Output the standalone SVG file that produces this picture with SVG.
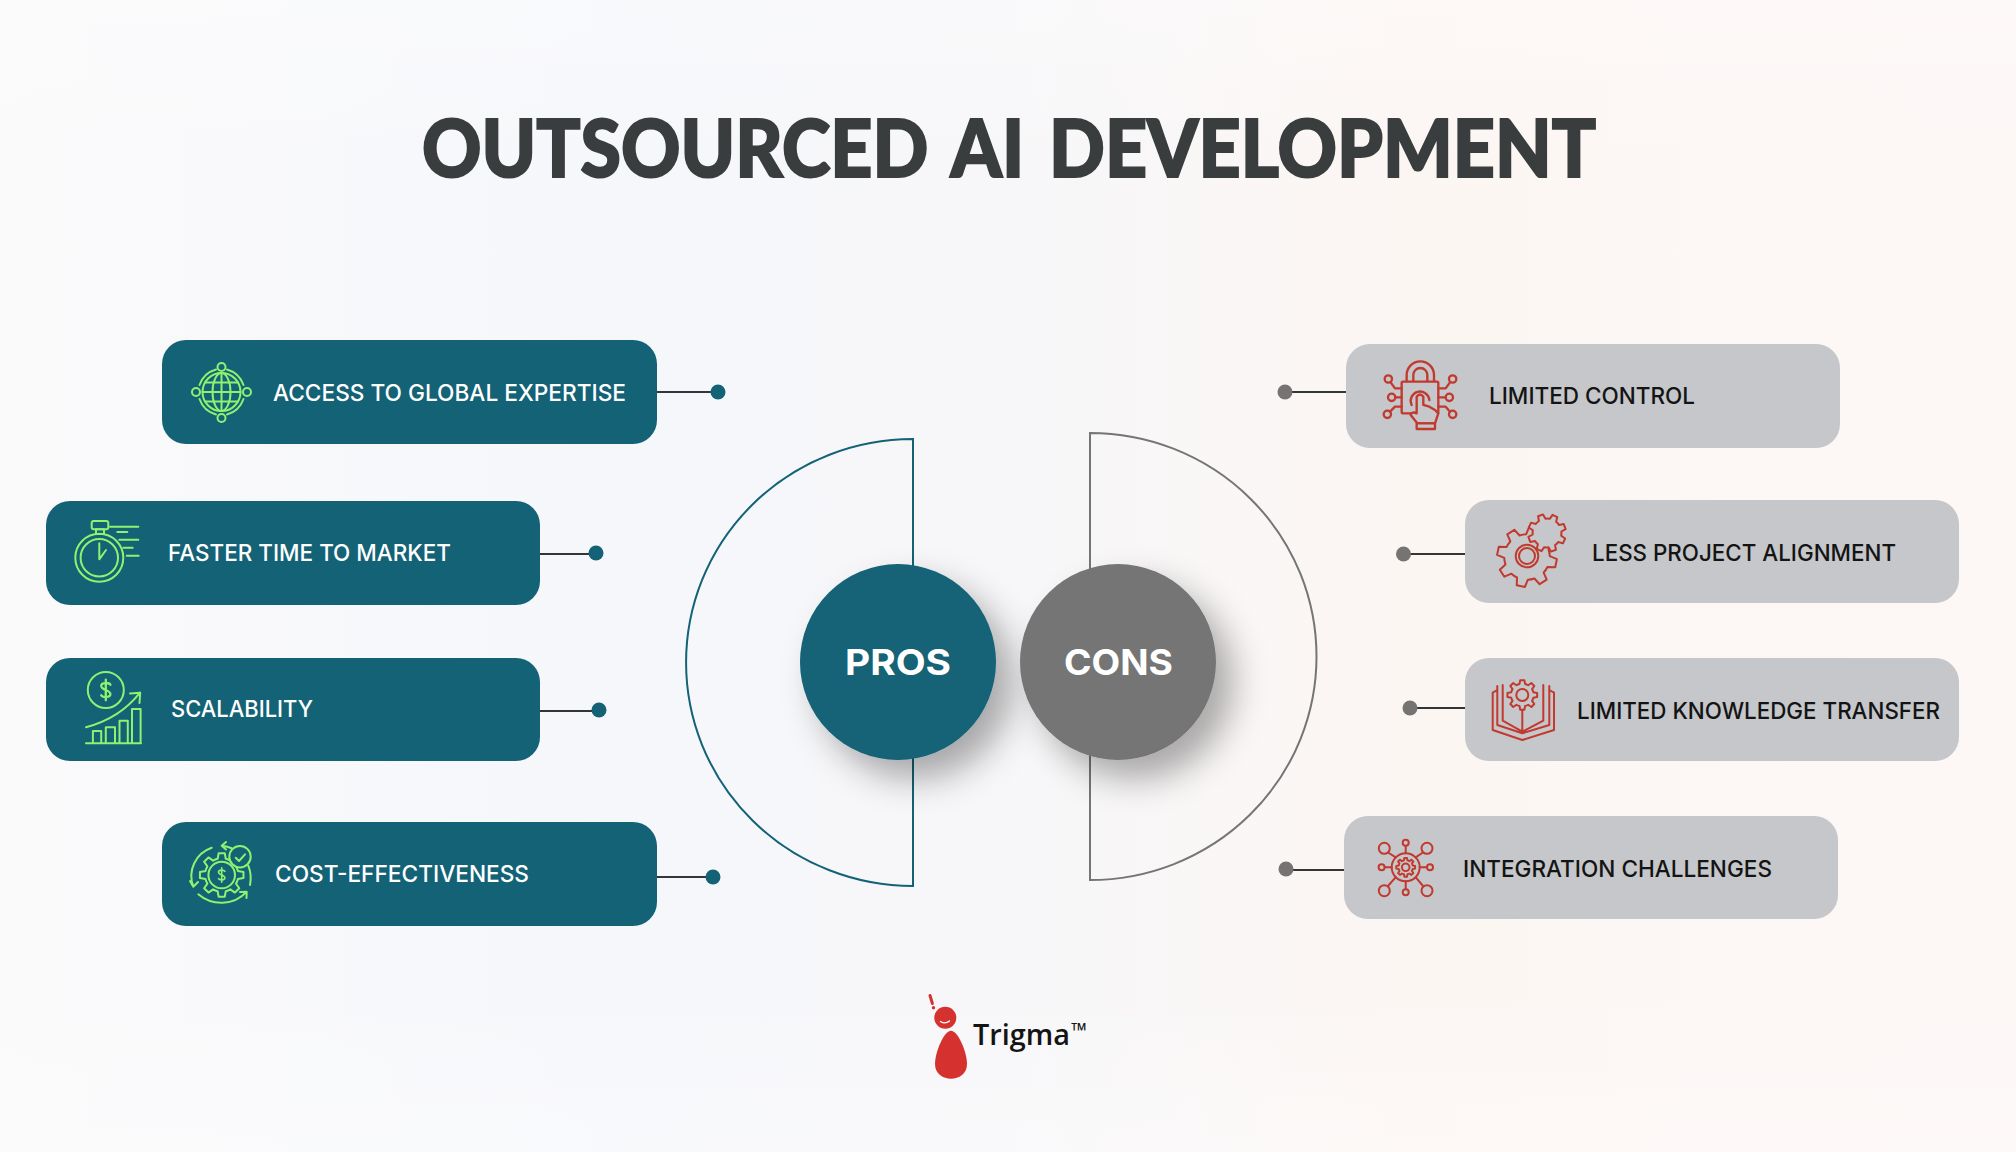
<svg xmlns="http://www.w3.org/2000/svg" xmlns:xlink="http://www.w3.org/1999/xlink" width="2016" height="1152" viewBox="0 0 2016 1152">
<style>
.lbl{font-family:"Inter","Liberation Sans",sans-serif;font-size:23px;font-weight:500}
.w{fill:#ffffff}.k{fill:#141414}
.teal{fill:#136276}.grey{fill:#c5c7ca}
.gi{fill:none;stroke:#8df26f;stroke-width:2;stroke-linecap:round;stroke-linejoin:round}
.ri{fill:none;stroke:#c1392f;stroke-width:2;stroke-linecap:round;stroke-linejoin:round}
.ln{stroke:#333637;stroke-width:2.2;fill:none}
.big{font-family:"Inter","Liberation Sans",sans-serif;font-size:35px;font-weight:700;fill:#ffffff}
</style>
<defs>
<linearGradient id="bg" x1="0" y1="0" x2="1" y2="0">
<stop offset="0" stop-color="#fafafb"/><stop offset=".3" stop-color="#f6f7fb"/><stop offset=".5" stop-color="#f7f7f9"/><stop offset=".7" stop-color="#fcf6f3"/><stop offset="1" stop-color="#fdf7f6"/>
</linearGradient>
<linearGradient id="veil" x1="0" y1="0" x2="0" y2="1">
<stop offset="0" stop-color="#ffffff" stop-opacity=".3"/><stop offset=".15" stop-color="#ffffff" stop-opacity="0"/><stop offset=".85" stop-color="#ffffff" stop-opacity="0"/><stop offset="1" stop-color="#ffffff" stop-opacity=".3"/>
</linearGradient>
<filter id="sh" x="-40%" y="-40%" width="200%" height="200%"><feDropShadow dx="17" dy="19" stdDeviation="17" flood-color="#000000" flood-opacity=".32"/></filter>
<path id="g8" vector-effect="non-scaling-stroke" d="M7.37 -1.84L9.9 -1.39L9.9 1.39L7.37 1.84A7.6 7.6 0 0 1 6.51 3.91L7.99 6.02L6.02 7.99L3.91 6.51A7.6 7.6 0 0 1 1.84 7.37L1.39 9.9L-1.39 9.9L-1.84 7.37A7.6 7.6 0 0 1 -3.91 6.51L-6.02 7.99L-7.99 6.02L-6.51 3.91A7.6 7.6 0 0 1 -7.37 1.84L-9.9 1.39L-9.9 -1.39L-7.37 -1.84A7.6 7.6 0 0 1 -6.51 -3.91L-7.99 -6.02L-6.02 -7.99L-3.91 -6.51A7.6 7.6 0 0 1 -1.84 -7.37L-1.39 -9.9L1.39 -9.9L1.84 -7.37A7.6 7.6 0 0 1 3.91 -6.51L6.02 -7.99L7.99 -6.02L6.51 -3.91A7.6 7.6 0 0 1 7.37 -1.84Z"/>
<path id="dol" d="M4 -4.5C3 -6.5 -4 -7 -4 -3.5C-4 0 4 0 4 3.5C4 7 -3 6.5 -4 4.5M0 -9V9"/>
</defs>
<rect width="2016" height="1152" fill="url(#bg)"/>
<rect width="2016" height="1152" fill="url(#veil)"/>

<text id="title" x="422" y="177" textLength="1174" lengthAdjust="spacingAndGlyphs" font-family="Lato,'Liberation Sans',sans-serif" font-size="80" font-weight="900" word-spacing="8" fill="#3a3d3e" stroke="#3a3d3e" stroke-width="2">OUTSOURCED AI DEVELOPMENT</text>

<g id="connectors">
<g class="ln">
<path d="M657 392H718"/><path d="M540 554H596"/><path d="M540 711H599"/><path d="M657 877H713"/>
<path d="M1346 392H1285"/><path d="M1465 554H1403"/><path d="M1465 708H1410"/><path d="M1344 870H1286"/>
</g>
<g class="teal"><circle cx="718" cy="392" r="7.500"/><circle cx="596" cy="553" r="7.500"/><circle cx="599" cy="710" r="7.500"/><circle cx="713" cy="877" r="7.500"/></g>
<g fill="#757472"><circle cx="1285" cy="392" r="7.500"/><circle cx="1403.500" cy="554" r="7.500"/><circle cx="1410" cy="708" r="7.500"/><circle cx="1286" cy="869" r="7.500"/></g>
</g>

<g id="pros">
<path d="M913 439A227 223.500 0 0 0 913 886Z" fill="none" stroke="#136276" stroke-width="2"/>
<circle cx="898" cy="662" r="98" class="teal" filter="url(#sh)"/>
<text x="845" y="675" textLength="106" lengthAdjust="spacingAndGlyphs" class="big">PROS</text>
</g>
<g id="cons">
<path d="M1090 433A226.500 223.500 0 0 1 1090 880Z" fill="none" stroke="#757575" stroke-width="2"/>
<circle cx="1118" cy="662" r="98" fill="#757575" filter="url(#sh)"/>
<text x="1064" y="675" textLength="109" lengthAdjust="spacingAndGlyphs" class="big">CONS</text>
</g>

<g id="pro-global">
<rect x="162" y="340" width="495" height="104" rx="24" class="teal"/>
<g class="gi">
<circle cx="221.500" cy="392" r="19"/><ellipse cx="221.500" cy="392" rx="9" ry="19"/><path d="M221.500 373V411M202.500 392H240.500M205 382.500H238M205 401.500H238"/>
<circle cx="221.500" cy="367" r="4"/><circle cx="221.500" cy="418" r="4"/><circle cx="196" cy="392" r="4"/><circle cx="247" cy="392" r="4"/>
<path d="M216 369.500A24.500 24.500 0 0 0 199.500 385M227 369.500A24.500 24.500 0 0 1 243.500 385M199.500 399A24.500 24.500 0 0 0 216 414.500M243.500 399A24.500 24.500 0 0 1 227 414.500"/>
</g>
<text x="273" y="401" textLength="353" lengthAdjust="spacingAndGlyphs" class="lbl w">ACCESS TO GLOBAL EXPERTISE</text>
</g>

<g id="pro-time">
<rect x="46" y="501" width="494" height="104" rx="24" class="teal"/>
<g class="gi">
<circle cx="99.300" cy="557.700" r="24"/><circle cx="99.300" cy="557.700" r="18.700"/>
<rect x="91.700" y="521" width="16.600" height="8.300" rx="2"/><rect x="96" y="529.300" width="8" height="4.700"/>
<path d="M99.300 543.300V559.300L106 550M110 526.700H138.300M117.300 532H127.300M119.300 539.700H138.300M123.300 547.700H132.700M126.700 555.700H138.700"/>
</g>
<text x="168" y="561" textLength="283" lengthAdjust="spacingAndGlyphs" class="lbl w">FASTER TIME TO MARKET</text>
</g>

<g id="pro-scale">
<rect x="46" y="658" width="494" height="103" rx="24" class="teal"/>
<g class="gi">
<circle cx="105.800" cy="690" r="18"/><use href="#dol" transform="translate(105.800 690) scale(1.150)"/>
<path d="M86 727.300C110 721 128 708 140 692.700M130 693.500L140.200 692.700L139.500 703"/>
<path d="M86 743.300H141M92.900 743.300V731H101.200V743.300M105.800 743.300V727.300H115V743.300M119.500 743.300V720.700H127.800V743.300M132 743.300V709H140.600V743.300"/>
</g>
<text x="171" y="717" textLength="142" lengthAdjust="spacingAndGlyphs" class="lbl w">SCALABILITY</text>
</g>

<g id="pro-cost">
<rect x="162" y="822" width="495" height="104" rx="24" class="teal"/>
<g class="gi">
<use href="#g8" transform="translate(221.700 875) scale(2.200)"/>
<circle cx="221.700" cy="875" r="13.300"/><use href="#dol" transform="translate(221.700 875) scale(.8)"/>
<circle cx="240" cy="856.700" r="10.700" fill="#136276"/><path d="M235.700 857.700L239 861L245 854.300"/>
<path d="M211.700 847.700A30 30 0 0 0 193.300 886.700M190 881L193.300 886.700L198 882"/>
<path d="M198.300 894.300C212 906 234 906 246.700 891.700M240 892L246.700 891.700L246.500 898"/>
<path d="M248.300 865.700Q252 875 250 885M231.700 848.300Q226 846 221.700 845.700M226 842L221.700 845.700L226 849.500"/>
</g>
<text x="275" y="882" textLength="254" lengthAdjust="spacingAndGlyphs" class="lbl w">COST-EFFECTIVENESS</text>
</g>

<g id="con-control">
<rect x="1346" y="344" width="494" height="104" rx="24" class="grey"/>
<g class="ri" transform="translate(1370 355) scale(.3333)" style="stroke-width:7">
<rect x="95" y="80" width="110" height="95" rx="4"/>
<path d="M110 78V60A41 41 0 0 1 192 60V78M130 78V60A21 21 0 0 1 172 60V78"/>
<circle cx="55" cy="72" r="11"/><circle cx="65" cy="127" r="11"/><circle cx="52" cy="178" r="11"/>
<circle cx="248" cy="72" r="11"/><circle cx="238" cy="127" r="11"/><circle cx="248" cy="178" r="11"/>
<path d="M95 100H75L62 82M95 127H76M95 155H75L60 170M205 100H227L240 82M205 127H227M205 155H227L240 170"/>
<path d="M125 150A28 28 0 1 1 178 135"/>
<path d="M140 175V125Q150 112 160 125V150L178 155L195 165L205 175L195 205H142L122 180Q125 168 140 175Z" fill="#c5c7ca"/>
<rect x="140" y="205" width="55" height="17" fill="#c5c7ca"/>
</g>
<text x="1489" y="404" textLength="206" lengthAdjust="spacingAndGlyphs" class="lbl k">LIMITED CONTROL</text>
</g>

<g id="con-align">
<rect x="1465" y="500" width="494" height="103" rx="24" class="grey"/>
<g class="ri">
<use href="#g8" transform="translate(1527 557) rotate(12) scale(3)"/>
<use href="#g8" transform="translate(1547 533) rotate(25) scale(1.900)" fill="#c5c7ca"/>
<circle cx="1527" cy="556" r="11.300"/><circle cx="1527" cy="556" r="8"/>
</g>
<text x="1592" y="561" textLength="304" lengthAdjust="spacingAndGlyphs" class="lbl k">LESS PROJECT ALIGNMENT</text>
</g>

<g id="con-knowledge">
<rect x="1465" y="658" width="494" height="103" rx="24" class="grey"/>
<g class="ri">
<use href="#g8" transform="translate(1522.300 695) scale(1.500)"/><circle cx="1522.300" cy="695" r="6"/>
<path d="M1522.300 710V732M1497.300 690L1492.700 692.700V730L1522.300 740L1554 730V692.700L1549.300 690M1497.300 686V725L1522.300 733.300L1549.300 725V686M1502.700 685V720.700L1522.300 731.700L1543.300 720.700V685"/>
</g>
<text x="1577" y="719" textLength="363" lengthAdjust="spacingAndGlyphs" class="lbl k">LIMITED KNOWLEDGE TRANSFER</text>
</g>

<g id="con-integration">
<rect x="1344" y="816" width="494" height="103" rx="24" class="grey"/>
<g class="ri">
<circle cx="1405.700" cy="867.300" r="14"/><use href="#g8" transform="translate(1405.700 867.300) scale(.95)"/><circle cx="1405.700" cy="867.300" r="3.800"/>
<path d="M1405.700 853.300V846M1405.700 881.300V889M1391.700 867.300H1385M1419.700 867.300H1426.500M1395.800 857.400L1388 852.500M1415.600 857.400L1423 852.500M1395.800 877.200L1388 886M1415.600 877.200L1423 886"/>
<circle cx="1405.700" cy="842.700" r="3"/><circle cx="1405.700" cy="892.300" r="3"/><circle cx="1381.600" cy="867.300" r="3"/><circle cx="1430" cy="867.300" r="3"/>
<circle cx="1384.300" cy="848.300" r="5.500"/><circle cx="1427" cy="848.300" r="5.500"/><circle cx="1384.300" cy="890.700" r="5.500"/><circle cx="1427" cy="890.700" r="5.500"/>
</g>
<text x="1463" y="877" textLength="309" lengthAdjust="spacingAndGlyphs" class="lbl k">INTEGRATION CHALLENGES</text>
</g>

<g id="logo">
<circle cx="945.300" cy="1017.700" r="11" fill="#d5322f"/>
<path d="M940.500 1021.500Q945 1024.500 949.500 1021" fill="none" stroke="#ffffff" stroke-width="1.300" stroke-linecap="round"/>
<path d="M951 1030.700C958 1030.700 967 1052 967 1064C967 1074 959 1078.700 951 1078.700C943 1078.700 935 1074 935 1064C935 1052 944 1030.700 951 1030.700Z" fill="#d5322f"/>
<path d="M930 995.500L932.400 1003.500" stroke="#d5322f" stroke-width="3" stroke-linecap="round"/><circle cx="933.500" cy="1007.800" r="1.700" fill="#d5322f"/>
<text x="973" y="1045" textLength="97" lengthAdjust="spacingAndGlyphs" font-family="'Open Sans','Noto Sans',sans-serif" font-size="29" font-weight="600" fill="#141414">Trigma</text>
<text x="1071" y="1038" font-family="'Open Sans','Noto Sans',sans-serif" font-size="21" font-weight="500" fill="#141414">™</text>
</g>
</svg>
